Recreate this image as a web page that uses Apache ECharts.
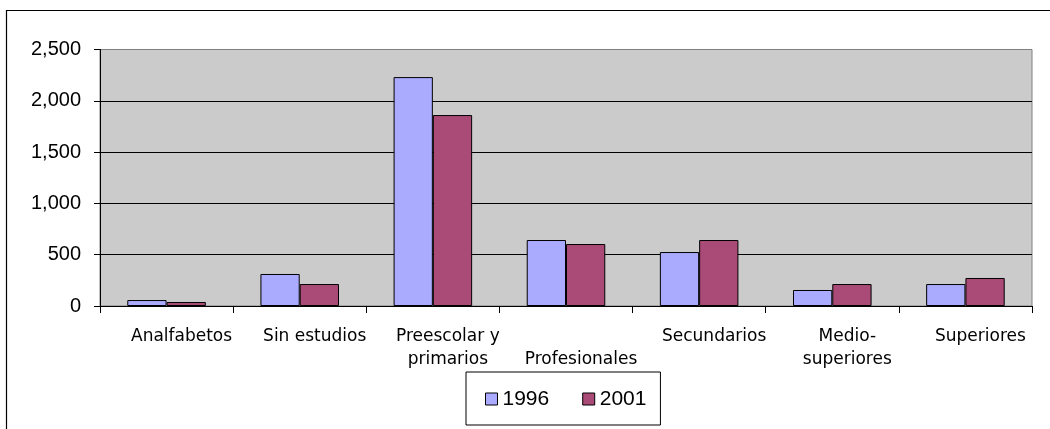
<!DOCTYPE html>
<html>
<head>
<meta charset="utf-8">
<script src="https://cdn.jsdelivr.net/npm/echarts@6/dist/echarts.min.js"></script>
<style>
html,body{margin:0;padding:0;background:#fff;}
#chart{width:1050px;height:429px;}
</style>
</head>
<body>
<div id="chart"></div>
<script>
const categories = ["Analfabetos", "Sin estudios", "Preescolar y primarios", "Profesionales", "Secundarios", "Medio-superiores", "Superiores"];
const tickLabels = ["Analfabetos", "Sin estudios", "Preescolar y\nprimarios", "\nProfesionales", "Secundarios", "Medio-\nsuperiores", "Superiores"];
const values1996 = [58, 312, 2231, 643, 526, 156, 214];
const values2001 = [39, 214, 1861, 604, 643, 214, 273];
const seriesNames = ["1996", "2001"];
const yTicks = { min: 0, max: 2500, interval: 500 };

const chart = echarts.init(document.getElementById('chart'), null, { renderer: 'canvas' });

const option = {
  animation: false,
  backgroundColor: '#ffffff',
  graphic: [{
    type: 'rect',
    shape: { x: 6.5, y: 10.5, width: 2000, height: 2000 },
    style: { fill: 'none', stroke: '#000', lineWidth: 1.2 },
    silent: true
  }],
  grid: {
    left: 100, right: 18, top: 49.5, bottom: 123,
    show: true, backgroundColor: '#CBCBCB', borderColor: '#808080', borderWidth: 1
  },
  legend: {
    data: seriesNames,
    left: 466, top: 372,
    orient: 'horizontal',
    backgroundColor: '#fff',
    borderColor: '#000', borderWidth: 1, borderRadius: 0,
    padding: [15, 14, 14, 19],
    itemWidth: 12, itemHeight: 12, itemGap: 33,
    icon: 'rect',
    itemStyle: { borderColor: '#000', borderWidth: 1 },
    textStyle: { fontFamily: 'Liberation Sans, Arial, sans-serif', fontSize: 21, color: '#000', lineHeight: 24 }
  },
  xAxis: {
    type: 'category',
    data: categories,
    boundaryGap: true,
    axisLine: { show: true, lineStyle: { color: '#000', width: 1 } },
    axisTick: { show: true, length: 7, lineStyle: { color: '#000' } },
    splitLine: { show: false },
    axisLabel: {
      interval: 0,
      margin: 19,
      fontFamily: 'DejaVu Sans, sans-serif',
      fontSize: 17,
      lineHeight: 23,
      color: '#000',
      padding: [0, 0, 0, 30],
      formatter: function (v, i) { return tickLabels[i]; }
    }
  },
  yAxis: {
    type: 'value',
    min: yTicks.min, max: yTicks.max, interval: yTicks.interval,
    axisLine: { show: true, lineStyle: { color: '#000', width: 1 } },
    axisTick: { show: true, length: 6, lineStyle: { color: '#000' } },
    splitLine: { show: true, showMaxLine: false, lineStyle: { color: '#000', width: 1 } },
    axisLabel: {
      margin: 19,
      fontFamily: 'Liberation Sans, Arial, sans-serif',
      fontSize: 20,
      color: '#000',
      formatter: function (v) { return v.toLocaleString('en-US'); }
    }
  },
  series: [
    {
      name: seriesNames[0], type: 'bar', data: values1996,
      barCategoryGap: '41%', barGap: '0%',
      itemStyle: { color: '#AAAAFF', borderColor: '#000', borderWidth: 1 }
    },
    {
      name: seriesNames[1], type: 'bar', data: values2001,
      barCategoryGap: '41%', barGap: '0%',
      itemStyle: { color: '#AA4A77', borderColor: '#000', borderWidth: 1 }
    }
  ]
};
chart.setOption(option);
</script>
</body>
</html>
